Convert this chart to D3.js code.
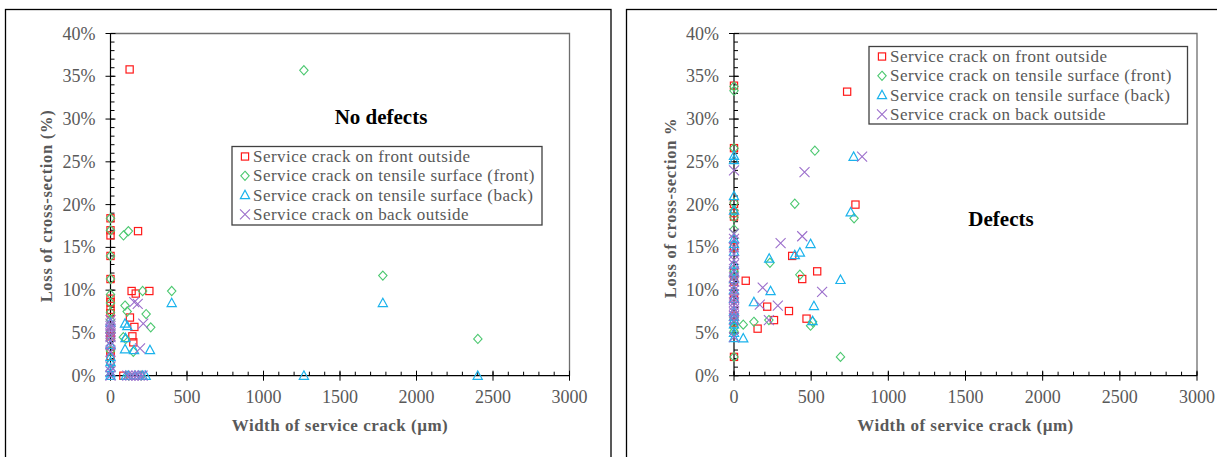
<!DOCTYPE html>
<html><head><meta charset="utf-8">
<script src="https://cdn.jsdelivr.net/npm/d3@7"></script>
<style>body{margin:0;background:#fff}svg{display:block}</style>
</head><body>
<svg id="c" width="1217" height="457"></svg>
<script>
// ---------- DATA ----------
const seriesNames = ["Service crack on front outside","Service crack on tensile surface (front)","Service crack on tensile surface (back)","Service crack on back outside"];
const xTicks = [0,500,1000,1500,2000,2500,3000];
const yTicks = [0,5,10,15,20,25,30,35,40];

// Panel 1: No defects  [width µm, loss %]
const noDefFrontOut = [[0,18.4],[0,17.0],[0,16.4],[0,14.0],[0,11.3],[0,9.0],[0,8.6],[0,7.7],[0,7.3],[0,5.0],[0,4.6],[0,2.8],[0,2.3],
  [125,35.8],[180,16.9],[138,9.9],[254,9.9],[165,9.6],[127,6.8],[156,5.7],[143,4.6],[149,3.9],[84,0]];
const noDefTensFront = [[0,18.4],[0,17.0],[0,14.0],[0,11.3],[0,9.5],[0,8.5],[0,7.4],[0,6.5],[0,5.1],[0,4.1],[0,2.9],[0,1.5],
  [1264,35.7],[1780,11.7],[2401,4.3],[400,9.9],[210,9.9],[85,16.4],[117,16.9],[95,8.2],[109,7.5],[233,7.2],[263,5.65],[84,4.5],[100,4.3],[149,2.8],[120,0],[200,0]];
const noDefTensBack = [[0,6.2],[0,3.6],[0,2.2],[0,1.6],[0,0.9],[0,0.3],[0,0],
  [400,8.5],[1780,8.5],[1264,0],[2400,0],[95,6.1],[110,5.8],[98,4.4],[95,3.1],[154,3.0],[258,3.0],[100,0],[115,0],[160,0],[185,0],[210,0],[230,0]];
const noDefBackOut = [[0,6.5],[0,6.1],[0,5.8],[0,5.5],[0,5.2],[0,4.9],[0,4.5],[0,4.0],[0,3.6],[0,2.8],[0,1.1],[0,0.5],[0,0],
  [155,8.6],[178,8.4],[214,6.1],[193,3.2],[110,0],[130,0],[150,0],[170,0],[190,0],[210,0]];

// Panel 2: Defects
const defFrontOut = [[0,33.9],[0,26.6],[0,20.1],[0,19.0],[0,18.6],[0,15.0],[0,12.0],[0,11.0],[0,9.0],[0,7.0],[0,6.2],[0,2.2],
  [733,33.2],[787,20.0],[377,14.0],[539,12.2],[442,11.3],[76,11.1],[215,8.07],[356,7.56],[259,6.5],[470,6.67],[153,5.5]];
const defTensFront = [[0,33.8],[0,33.3],[0,26.6],[0,20.2],[0,19.3],[0,18.5],[0,17.1],[0,12.2],[0,11.0],[0,6.8],[0,5.6],[0,5.2],[0,2.2],
  [524,26.3],[394,20.1],[778,18.4],[233,13.2],[427,11.8],[60,5.97],[129,6.3],[226,6.5],[496,5.85],[509,6.3],[690,2.2]];
const defTensBack = [[0,25.7],[0,25.2],[0,21.0],[0,19.3],[0,16.0],[0,15.4],[0,14.5],[0,13.0],[0,12.1],[0,11.3],[0,10.0],[0,9.0],[0,7.5],[0,6.9],[0,6.5],[0,6.0],[0,5.0],[0,4.4],
  [775,25.6],[756,19.1],[496,15.4],[427,14.4],[394,14.1],[228,13.7],[690,11.2],[237,9.9],[129,8.6],[518,8.15],[509,6.4],[60,4.37]];
const defBackOut = [[0,24.0],[0,16.6],[0,16.0],[0,15.0],[0,14.2],[0,13.5],[0,13.0],[0,12.2],[0,11.5],[0,11.0],[0,10.5],[0,10.0],[0,9.5],[0,9.0],[0,8.6],[0,8.2],[0,7.8],[0,7.4],[0,7.0],[0,6.5],[0,4.5],
  [830,25.6],[457,23.8],[442,16.3],[302,15.5],[571,9.8],[186,10.3],[167,8.3],[284,8.2],[226,6.5]];

// ---------- STYLE ----------
const colors = ["#ff1a1a","#4cc870","#1ab2ec","#9c6fcc"];
const shapes = ["square","diamond","triangle","x"];
const grey = "#595959";
const serif = "'Liberation Serif','Times New Roman',serif";

const svg = d3.select("#c");

function marker(g, shape, color){
  if(shape==="square") g.append("rect").attr("x",-3.6).attr("y",-3.6).attr("width",7.2).attr("height",7.2).attr("fill","none").attr("stroke",color).attr("stroke-width",1.2);
  else if(shape==="diamond") g.append("path").attr("d","M0,-4.6L4.2,0L0,4.6L-4.2,0Z").attr("fill","none").attr("stroke",color).attr("stroke-width",1.1);
  else if(shape==="triangle") g.append("path").attr("d","M0,-4.8L4.6,3.6L-4.6,3.6Z").attr("fill","none").attr("stroke",color).attr("stroke-width",1.2);
  else g.append("path").attr("d","M-5,-5L5,5M-5,5L5,-5").attr("fill","none").attr("stroke",color).attr("stroke-width",1.1);
}

function panel(cfg){
  const x = d3.scaleLinear().domain([0,3000]).range([cfg.left,cfg.right]);
  const y = d3.scaleLinear().domain([0,40]).range([cfg.bottom,cfg.top]);
  const g = svg.append("g");
  g.append("rect").attr("x",cfg.boxX).attr("y",9.5).attr("width",cfg.boxW).attr("height",470)
    .attr("fill","none").attr("stroke","#000").attr("stroke-width",1.3);
  g.append("path").attr("d",`M${cfg.left},${cfg.top}H${cfg.right}V${cfg.bottom}`).attr("fill","none").attr("stroke","#6e6e6e").attr("stroke-width",1.3);
  g.selectAll(".xm").data(d3.range(0,3001,100)).join("line")
    .attr("x1",d=>x(d)).attr("x2",d=>x(d)).attr("y1",cfg.bottom).attr("y2",cfg.bottom-4).attr("stroke","#000");
  g.selectAll(".ym").data(d3.range(0,41,1)).join("line")
    .attr("y1",d=>y(d)).attr("y2",d=>y(d)).attr("x1",cfg.left).attr("x2",cfg.left+4).attr("stroke","#000");
  g.selectAll(".xM").data(xTicks).join("line")
    .attr("x1",d=>x(d)).attr("x2",d=>x(d)).attr("y1",cfg.bottom-5).attr("y2",cfg.bottom+5).attr("stroke","#000");
  g.selectAll(".yM").data(yTicks).join("line")
    .attr("y1",d=>y(d)).attr("y2",d=>y(d)).attr("x1",cfg.left-5).attr("x2",cfg.left+5).attr("stroke","#000");
  g.append("line").attr("x1",cfg.left).attr("x2",cfg.right).attr("y1",cfg.bottom).attr("y2",cfg.bottom).attr("stroke","#000").attr("stroke-width",1.2);
  g.append("line").attr("x1",cfg.left).attr("x2",cfg.left).attr("y1",cfg.top).attr("y2",cfg.bottom).attr("stroke","#000").attr("stroke-width",1.2);
  g.selectAll(".xl").data(xTicks).join("text").attr("x",d=>x(d)).attr("y",cfg.bottom+27)
    .attr("text-anchor","middle").attr("font-family",serif).attr("font-size",18).attr("fill",grey).text(d=>d);
  g.selectAll(".yl").data(yTicks).join("text").attr("x",cfg.left-15).attr("y",d=>y(d)+6)
    .attr("text-anchor","end").attr("font-family",serif).attr("font-size",18).attr("fill",grey).text(d=>d+"%");
  g.append("text").attr("x",(cfg.left+cfg.right)/2).attr("y",431).attr("text-anchor","middle")
    .attr("font-family",serif).attr("font-weight","bold").attr("font-size",17).attr("letter-spacing",0.5).attr("fill",grey).text("Width of service crack (\u00b5m)");
  g.append("text").attr("transform",`translate(${cfg.yTitleX},${cfg.yTitleY}) rotate(-90)`).attr("text-anchor","middle")
    .attr("font-family",serif).attr("font-weight","bold").attr("font-size",16.5).attr("letter-spacing",0.7).attr("fill",grey).text(cfg.yTitle);
  g.append("text").attr("x",cfg.titleX).attr("y",cfg.titleY).attr("text-anchor","middle")
    .attr("font-family",serif).attr("font-weight","bold").attr("font-size",21).attr("fill","#000").text(cfg.title);
  cfg.series.forEach((s,i)=>{
    g.append("g").selectAll("g").data(s).join("g")
      .attr("transform",d=>`translate(${x(d[0])},${y(d[1])})`)
      .each(function(){ marker(d3.select(this),shapes[i],colors[i]); });
  });
  const L = cfg.legend;
  g.append("rect").attr("x",L.x).attr("y",L.y).attr("width",L.w).attr("height",L.h).attr("fill","#fff").attr("stroke","#404040").attr("stroke-width",1.3);
  seriesNames.forEach((n,i)=>{
    const yy = L.y+10+i*19.3;
    const mg = g.append("g").attr("transform",`translate(${L.x+13},${yy})`);
    marker(mg,shapes[i],colors[i]);
    g.append("text").attr("x",L.x+21).attr("y",yy+5.5).attr("font-family",serif).attr("font-size",17).attr("letter-spacing",0.45).attr("fill",grey).text(n);
  });
}

panel({left:110.5,right:569.5,top:33.5,bottom:375.7,boxX:5.5,boxW:605.5,
  yTitle:"Loss of cross-section (%)",yTitleX:52,yTitleY:206,title:"No defects",titleX:381,titleY:124,
  legend:{x:232,y:146.5,w:310,h:78.5},
  series:[noDefFrontOut,noDefTensFront,noDefTensBack,noDefBackOut]});
panel({left:734,right:1197,top:33.5,bottom:375.7,boxX:626.5,boxW:620,
  yTitle:"Loss of cross-section %",yTitleX:676,yTitleY:208,title:"Defects",titleX:1001,titleY:226,
  legend:{x:869,y:46.5,w:318.5,h:77.5},
  series:[defFrontOut,defTensFront,defTensBack,defBackOut]});
</script>
</body></html>
